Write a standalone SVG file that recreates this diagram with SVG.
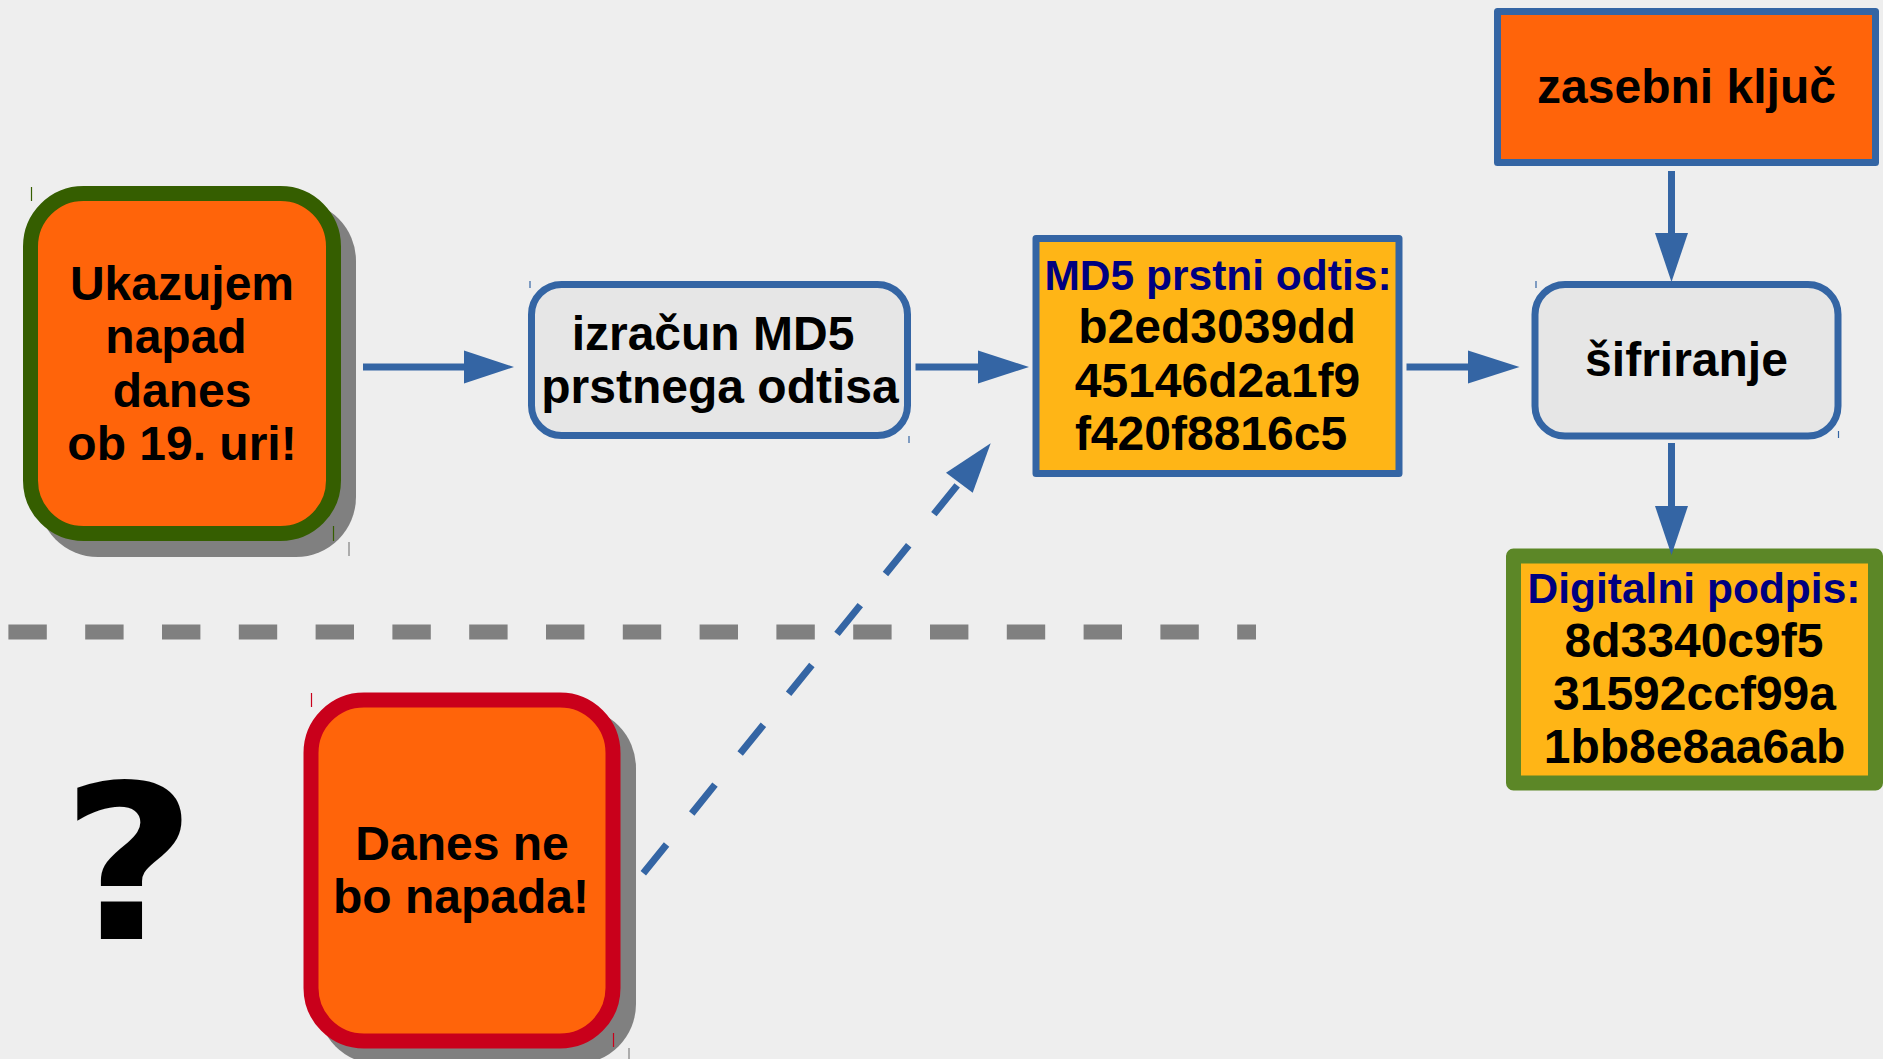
<svg xmlns="http://www.w3.org/2000/svg" width="1883" height="1059" viewBox="0 0 1883 1059">
  <defs>
    <style>
      .t { font-family: "Liberation Sans", Arial, sans-serif; font-weight: bold; font-size: 48px; fill: #000000; text-anchor: middle; }
      .h { font-size: 42.5px; fill: #000080; }
      .shadow { fill: #808080; }
      .conn { stroke: #3465a4; stroke-width: 7; fill: none; }
      .head { fill: #3465a4; }
      .tick { stroke-width: 1.2; }
    </style>
  </defs>

  <rect x="0" y="0" width="1883" height="1059" fill="#eeeeee"/>

  <!-- divider between the two scenarios -->
  <line x1="8.4" y1="632" x2="1256" y2="632" stroke="#808080" stroke-width="15" stroke-dasharray="38.4 38.4"/>

  <!-- original message -->
  <g id="msg-original">
    <rect class="shadow" x="38" y="201" width="318" height="356" rx="60"/>
    <rect x="30.5" y="193.5" width="303" height="340" rx="53" fill="#ff640a" stroke="#355e00" stroke-width="15"/>
    <line class="tick" x1="31.5" y1="187" x2="31.5" y2="201" stroke="#355e00"/>
    <line class="tick" x1="333.5" y1="526" x2="333.5" y2="541" stroke="#355e00"/>
    <line class="tick" x1="349" y1="542" x2="349" y2="556" stroke="#808080"/>
    <text class="t" x="182" y="300">Ukazujem</text>
    <text class="t" x="176" y="353">napad</text>
    <text class="t" x="182" y="406.5">danes</text>
    <text class="t" x="182" y="460">ob 19. uri!</text>
  </g>

  <!-- forged message -->
  <g id="msg-forged">
    <rect class="shadow" x="318" y="708" width="318" height="356" rx="60"/>
    <rect x="311" y="700" width="302" height="341" rx="53" fill="#ff640a" stroke="#c9001b" stroke-width="15"/>
    <line class="tick" x1="311.5" y1="693" x2="311.5" y2="707" stroke="#c9001b"/>
    <line class="tick" x1="613.5" y1="1033" x2="613.5" y2="1047" stroke="#c9001b"/>
    <line class="tick" x1="629" y1="1048" x2="629" y2="1059" stroke="#808080"/>
    <text class="t" x="462" y="860">Danes ne</text>
    <text class="t" x="461" y="913">bo napada!</text>
  </g>

  <!-- question mark -->
  <g id="question">
    <text x="0" y="939" transform="translate(129 0) scale(1.08 1)" font-family="'DejaVu Sans', sans-serif" font-weight="bold" font-size="216" text-anchor="middle" fill="#000000">?</text>
  </g>

  <!-- hash computation -->
  <g id="md5-calc">
    <rect x="531.5" y="284.5" width="376" height="151" rx="30" fill="#e6e6e6" stroke="#3465a4" stroke-width="7"/>
    <line class="tick" x1="530" y1="281" x2="530" y2="288" stroke="#3465a4"/>
    <line class="tick" x1="909" y1="436" x2="909" y2="443" stroke="#3465a4"/>
    <text class="t" x="713" y="350">izračun MD5</text>
    <text class="t" x="720" y="403">prstnega odtisa</text>
  </g>

  <!-- fingerprint -->
  <g id="md5-hash">
    <rect x="1036" y="238.5" width="363" height="235" fill="#ffb516" stroke="#3465a4" stroke-width="7" stroke-linejoin="round"/>
    <text class="t h" x="1218" y="290">MD5 prstni odtis:</text>
    <text class="t" x="1217" y="342.5">b2ed3039dd</text>
    <text class="t" x="1217.5" y="397">45146d2a1f9</text>
    <text class="t" x="1211" y="450">f420f8816c5</text>
  </g>

  <!-- private key -->
  <g id="private-key">
    <rect x="1497.5" y="11.5" width="378" height="151" fill="#ff640a" stroke="#3465a4" stroke-width="7" stroke-linejoin="round"/>
    <text class="t" x="1686.5" y="103">zasebni ključ</text>
  </g>

  <!-- encryption -->
  <g id="encrypt">
    <rect x="1535" y="284.5" width="303" height="151.5" rx="30" fill="#e6e6e6" stroke="#3465a4" stroke-width="7"/>
    <line class="tick" x1="1536" y1="281" x2="1536" y2="288" stroke="#3465a4"/>
    <line class="tick" x1="1838.5" y1="431" x2="1838.5" y2="438" stroke="#3465a4"/>
    <text class="t" x="1686.5" y="376">šifriranje</text>
  </g>

  <!-- signature -->
  <g id="signature">
    <rect x="1513.5" y="556" width="362" height="227" fill="#ffb516" stroke="#5c8727" stroke-width="15" stroke-linejoin="round"/>
    <text class="t h" x="1694" y="603">Digitalni podpis:</text>
    <text class="t" x="1694" y="657">8d3340c9f5</text>
    <text class="t" x="1694.5" y="710">31592ccf99a</text>
    <text class="t" x="1694.5" y="763">1bb8e8aa6ab</text>
  </g>

  <!-- connectors -->
  <g id="connectors">
    <line class="conn" x1="363" y1="367" x2="465" y2="367"/>
    <polygon class="head" points="514,367 464,350.5 464,383.5"/>

    <line class="conn" x1="915.5" y1="367" x2="979" y2="367"/>
    <polygon class="head" points="1029,367 978,350.5 978,383.5"/>

    <line class="conn" x1="1406.5" y1="367" x2="1469" y2="367"/>
    <polygon class="head" points="1519.5,367 1468,350.5 1468,383.5"/>

    <line class="conn" x1="1671.5" y1="171" x2="1671.5" y2="234"/>
    <polygon class="head" points="1671.5,282 1655,233 1688,233"/>

    <line class="conn" x1="1671.5" y1="443" x2="1671.5" y2="507"/>
    <polygon class="head" points="1671.5,555 1655,506 1688,506"/>

    <line class="conn" x1="643.3" y1="873.3" x2="959.3" y2="482.7" stroke-dasharray="37 40"/>
    <polygon class="head" points="990.7,443.3 946,472.7 972.7,492.7"/>
  </g>
</svg>
